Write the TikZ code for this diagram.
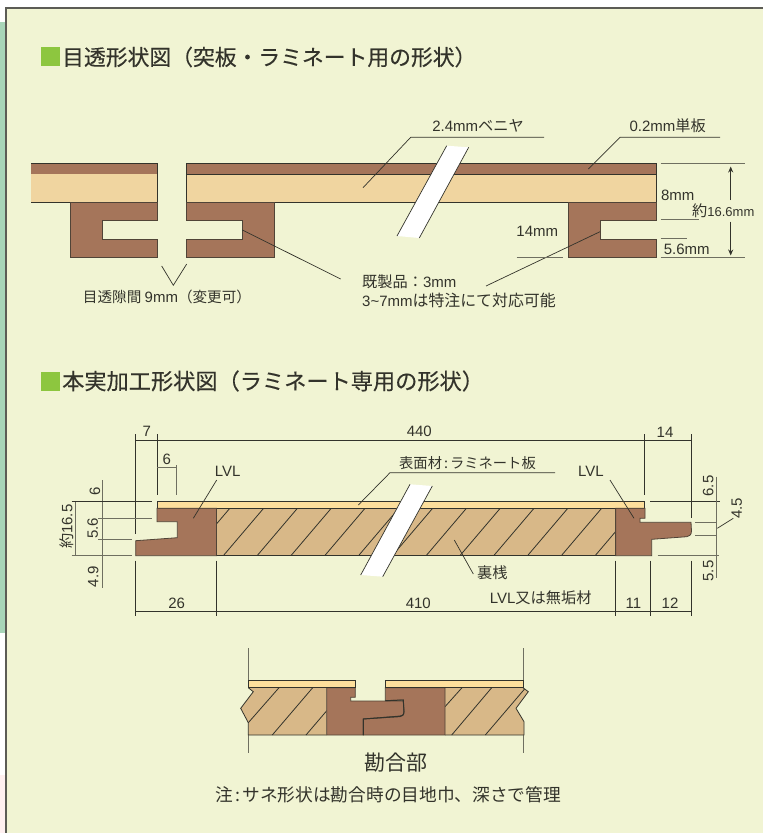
\documentclass[tikz,border=0pt]{standalone}
\usepackage{fontspec}
\setmainfont{Noto Sans CJK JP}
\newfontfamily\titlefont[FakeBold=0.3]{Noto Sans CJK JP}
\newfontfamily\latf{Liberation Sans}
\newcommand{\LT}[1]{{\latf\fontsize{15}{15}\selectfont #1}}
\newcommand{\LTs}[1]{{\latf\fontsize{13}{15}\selectfont #1}}
\usetikzlibrary{arrows.meta}
\definecolor{bgc}{HTML}{F1F4D3}
\definecolor{stripc}{HTML}{A8D5B8}
\definecolor{brownc}{HTML}{A5755A}
\definecolor{creamc}{HTML}{F0D5A0}
\definecolor{facec}{HTML}{FDDF9C}
\definecolor{hatchc}{HTML}{D8B888}
\definecolor{inkc}{HTML}{33332B}
\definecolor{dimc}{HTML}{6F6F60}
\definecolor{greenc}{HTML}{8DC63F}
\tikzset{
 pline/.style={draw=inkc,line width=0.8pt},
 leader/.style={draw=inkc,line width=0.7pt},
 dimline/.style={draw=dimc,line width=1pt},
 darkdim/.style={draw=inkc,line width=0.9pt},
 brownp/.style={fill=brownc,draw=inkc!75!brownc,line width=0.8pt},
 creamp/.style={fill=creamc,draw=inkc,line width=0.8pt},
 facep/.style={fill=facec,draw=inkc,line width=0.8pt},
 hatchp/.style={fill=hatchc,draw=inkc,line width=0.8pt},
 breakp/.style={fill=white,draw=none},
 lab/.style={inner sep=0pt,text=inkc,font=\fontsize{15.2}{15}\selectfont},
 rlab/.style={lab,rotate=90},
 ttl/.style={inner sep=0pt,anchor=west,text=inkc,font=\titlefont\fontsize{21.8}{22}\selectfont},
}
\begin{document}
\begin{tikzpicture}[x=1pt,y=-1pt]
\useasboundingbox (0,0) rectangle (763,833);
\fill[white] (0,0) rectangle (763,833);
\fill[stripc] (0,22) rectangle (6,633);
\fill[red!6] (0,775) rectangle (6,833);
\fill[bgc] (6,8) rectangle (763,833);
\draw[draw=inkc!80,line width=1.6pt] (6,833) -- (6,8) -- (763,8);

% titles
\fill[greenc] (41,47) rectangle (60,66);
\node[ttl] (t1) at (62,57) {目透形状図（突板・ラミネート用の形状）};
\fill[greenc] (41,372) rectangle (60,391);
\node[ttl,font=\titlefont\fontsize{22.2}{22}\selectfont] (t2) at (62,381) {本実加工形状図（ラミネート専用の形状）};

% --- upper drawing ---
\fill[brownc] (31,163.5) rectangle (157.5,174);
\draw[pline] (31,163.5) -- (157.5,163.5) -- (157.5,174) -- (31,174);
\fill[creamc] (31,174) rectangle (157.5,202);
\draw[pline] (157.5,174) -- (157.5,202) -- (31,202);
\draw[pline,fill=brownc] (186.5,163.5) rectangle (656,174);
\draw[creamp] (186.5,174) rectangle (656,202);
\draw[brownp] (70,202) -- (157.5,202) -- (157.5,220) -- (102,220) -- (102,239) -- (157.5,239) -- (157.5,257.5) -- (70,257.5) -- cycle;
\draw[brownp] (186.5,202) -- (274,202) -- (274,257.5) -- (186.5,257.5) -- (186.5,239) -- (242,239) -- (242,220) -- (186.5,220) -- cycle;
\draw[brownp] (568,202) -- (656,202) -- (656,220) -- (600,220) -- (600,239) -- (656,239) -- (656,257.5) -- (568,257.5) -- cycle;
\fill[breakp] (446.7,145.7) -- (468.7,147.3) -- (419.3,238) -- (397,236) -- cycle;
\draw[leader] (446.7,145.7) -- (397,236);
\draw[leader] (468.7,147.3) -- (419.3,238);

\draw[leader] (544,137.3) -- (410.7,137.3) -- (363,187.7);
\draw[leader] (720,137.3) -- (620,137.3) -- (588.3,169);
\draw[leader] (242.3,230) -- (340.7,279);
\draw[leader] (600,231.7) -- (486,286);
\draw[leader] (161.7,266) -- (173.3,285.3) -- (186.7,264);

\draw[dimline] (660.7,163.7) -- (744.7,163.7);
\draw[dimline] (660.7,219) -- (699.3,219);
\draw[dimline] (660.7,238.3) -- (686.7,238.3);
\draw[dimline] (660.7,257.5) -- (744.7,257.5);
\draw[dimline] (516.7,257.5) -- (563.3,257.5);
\draw[dimline,draw=inkc,-{Stealth[length=6pt,width=5pt]}] (730.7,200) -- (730.7,166.5);
\draw[dimline,draw=inkc,-{Stealth[length=6pt,width=5pt]}] (730.7,221.7) -- (730.7,255.5);

\node[lab] (a1) at (478,126) {\LT{2.4mm}ベニヤ};
\node[lab] (a2) at (667.7,126) {\LT{0.2mm}単板};
\node[lab] (a3) at (677.7,195) {\LT{8mm}};
\node[lab] (a4) at (723.3,211) {約\LTs{16.6mm}};
\node[lab] (a5) at (537.3,231.5) {\LT{14mm}};
\node[lab] (a6) at (686.7,249.5) {\LT{5.6mm}};
\node[lab,anchor=west] (a7) at (362,281.7) {既製品：\LT{3mm}};
\node[lab,anchor=west,font=\fontsize{15.9}{16}\selectfont] (a8) at (362,300) {\LT{3\textasciitilde7mm}は特注にて対応可能};
\node[lab,font=\fontsize{14.6}{15}\selectfont] (a9) at (167,297) {目透隙間 \LT{9mm}（変更可）};

% --- middle drawing ---
\draw[hatchp] (216.5,508.3) rectangle (615.7,555.7);
\begin{scope}
\clip (216.5,508.3) rectangle (615.7,555.7);
\foreach \k in {-1,...,11}{
  \draw[pline] ({223.3+\k*33.8},555.7) -- ({263.6+\k*33.8},508.3);
}
\end{scope}
\draw[facep] (157,501.3) rectangle (644.3,508.3);
\draw[brownp] (157,508.3) -- (216.5,508.3) -- (216.5,555.7) -- (135.7,555.7) -- (135.7,540.7) -- (177.3,537.7) -- (177.3,521.7) -- (157,521.7) -- cycle;
\draw[brownp] (615.7,508.3) -- (645,508.3) -- (645,518.3) -- (640,518.3) -- (640,522.3) -- (691,522.3) -- (691.5,531) .. controls (691.5,535) and (689,536.5) .. (686.7,536.7) -- (651.7,539.3) -- (651.7,555.7) -- (615.7,555.7) -- cycle;
\fill[breakp] (410,484.3) -- (432.3,486) -- (382.7,576.7) -- (360.7,575) -- cycle;
\draw[leader] (410,484.3) -- (360.7,575);
\draw[leader] (432.3,486) -- (382.7,576.7);

\draw[darkdim] (135.7,440) -- (691,440);
\draw[darkdim] (135.7,434) -- (135.7,534);
\draw[darkdim] (157,434) -- (157,495);
\draw[darkdim] (644.3,434) -- (644.3,495);
\draw[darkdim] (691,434) -- (691,518.3);
\draw[dimline] (157,467.7) -- (176,467.7);
\draw[dimline] (176,465) -- (176,495);
\draw[darkdim] (135.7,611.7) -- (691,611.7);
\foreach \xx in {135.7,216.5,615.7,650.3,691}{
  \draw[darkdim] (\xx,560.7) -- (\xx,615.7);
}
\draw[dimline] (102.7,480) -- (102.7,588.3);
\draw[dimline] (75,501.3) -- (75,555.7);
\draw[darkdim] (71.7,501.3) -- (152.3,501.3);
\draw[dimline] (98.3,518.3) -- (152.3,518.3);
\draw[dimline] (98.3,539.3) -- (131.7,539.3);
\draw[dimline] (71.7,555.7) -- (131.7,555.7);
\draw[darkdim] (650,501.3) -- (720,501.3);
\draw[dimline] (716.7,476.7) -- (716.7,577.7);
\draw[dimline] (695,522.7) -- (716.7,522.7);
\draw[dimline] (695,535.3) -- (716.7,535.3);
\draw[dimline] (657.7,555.7) -- (719.3,555.7);
\draw[leader] (717.3,528.3) -- (733.3,518.3);
\draw[leader] (216.7,480) -- (193.3,518.3);
\draw[leader] (610,480) -- (634,518.3);
\draw[leader] (555,472.7) -- (390,472.7) -- (358.3,505);
\draw[leader] (454.3,540) -- (473.3,574);

\node[lab] (b1) at (146.7,431) {\LT{7}};
\node[lab] (b2) at (166.7,459) {\LT{6}};
\node[lab] (b3) at (419.3,431) {\LT{440}};
\node[lab] (b4) at (665,432.5) {\LT{14}};
\node[lab] (b5) at (227.7,471) {\LT{LVL}};
\node[lab] (b6) at (591,471) {\LT{LVL}};
\node[lab,font=\fontsize{14.3}{15}\selectfont] (b7) at (467.5,463) {表面材\hspace{2pt}:\hspace{2pt}ラミネート板};
\node[lab] (b8) at (492.3,573) {裏桟};
\node[lab] (b9) at (540.7,597.7) {\LT{LVL}又は無垢材};
\node[lab] (b10) at (176.7,603) {\LT{26}};
\node[lab] (b11) at (418.3,603) {\LT{410}};
\node[lab] (b12) at (633.3,603) {\LT{11}};
\node[lab] (b13) at (670,603) {\LT{12}};
\node[rlab] (c1) at (95,491) {\LT{6}};
\node[rlab] (c2) at (92.7,528.3) {\LT{5.6}};
\node[rlab] (c3) at (93.3,576.7) {\LT{4.9}};
\node[rlab] (c4) at (66.7,526.7) {約\LT{16.5}};
\node[rlab] (c5) at (708.3,486) {\LT{6.5}};
\node[rlab] (c6) at (736.7,508.3) {\LT{4.5}};
\node[rlab] (c7) at (708.3,571) {\LT{5.5}};

% --- lower drawing ---
\draw[dimline] (248,648.3) -- (248,680);
\draw[dimline] (523,648.3) -- (523,680);
\draw[dimline] (248.7,735) -- (248.7,752.7);
\draw[dimline] (523.7,735) -- (523.7,752.7);

\path[fill=hatchc] (248.3,687.7) -- (326.7,687.7) -- (326.7,735) -- (248.3,735) -- (248.3,722.7) -- (240.7,708.3) -- (253.3,691.7) -- cycle;
\begin{scope}
\clip (248.3,687.7) -- (326.7,687.7) -- (326.7,735) -- (248.3,735) -- (248.3,722.7) -- (240.7,708.3) -- (253.3,691.7) -- cycle;
\draw[pline] (248.3,722.7) -- (279,687.7);
\draw[pline] (272.3,735) -- (312.7,687.7);
\draw[pline] (306,735) -- (346.4,687.7);
\end{scope}
\draw[pline] (248.3,687.7) -- (253.3,691.7) -- (240.7,708.3) -- (248.3,722.7) -- (248.3,735) -- (326.7,735);
\path[fill=hatchc] (445,687.7) -- (523,687.7) -- (528.3,691.7) -- (516,708.3) -- (524,721.7) -- (524,735) -- (445,735) -- cycle;
\begin{scope}
\clip (445,687.7) -- (523,687.7) -- (528.3,691.7) -- (516,708.3) -- (524,721.7) -- (524,735) -- (445,735) -- cycle;
\draw[pline] (445,706.7) -- (462,687.7);
\draw[pline] (451.7,735) -- (491.7,687.7);
\draw[pline] (485.3,735) -- (525.7,687.7);
\end{scope}
\draw[pline] (523,687.7) -- (528.3,691.7) -- (516,708.3) -- (524,721.7) -- (524,735) -- (445,735);
\draw[brownp] (326.7,687.7) -- (355.3,687.7) -- (355.3,697.3) -- (350.7,697.3) -- (350.7,701) -- (403.3,701) -- (404,711.7) .. controls (404,715) and (402,716) .. (400,716) -- (363.3,719) -- (363.3,735) -- (326.7,735) -- cycle;
\draw[brownp] (385.3,687.7) -- (445,687.7) -- (445,735) -- (363.3,735) -- (363.3,719) -- (400,716.7) .. controls (402,716.7) and (404,715) .. (404,711.7) -- (403.3,700) -- (385.3,700.7) -- cycle;
\draw[draw=inkc,line width=1pt] (385.3,700.7) -- (403.3,700) -- (404,711.7) .. controls (404,715) and (402,716.3) .. (400,716.3) -- (363.3,719) -- (363.3,735);
\draw[facep] (248.3,680.3) rectangle (355.3,687.7);
\draw[facep] (385.3,680.3) rectangle (523,687.7);

\node[inner sep=0pt,text=inkc,font=\fontsize{21}{21}\selectfont] (d1) at (395.7,762.7) {勘合部};
\node[inner sep=0pt,text=inkc,font=\fontsize{17.7}{18}\selectfont] (d2) at (388.5,795) {注\hspace{2pt}:\hspace{2pt}サネ形状は勘合時の目地巾、深さで管理};
\end{tikzpicture}
\end{document}
